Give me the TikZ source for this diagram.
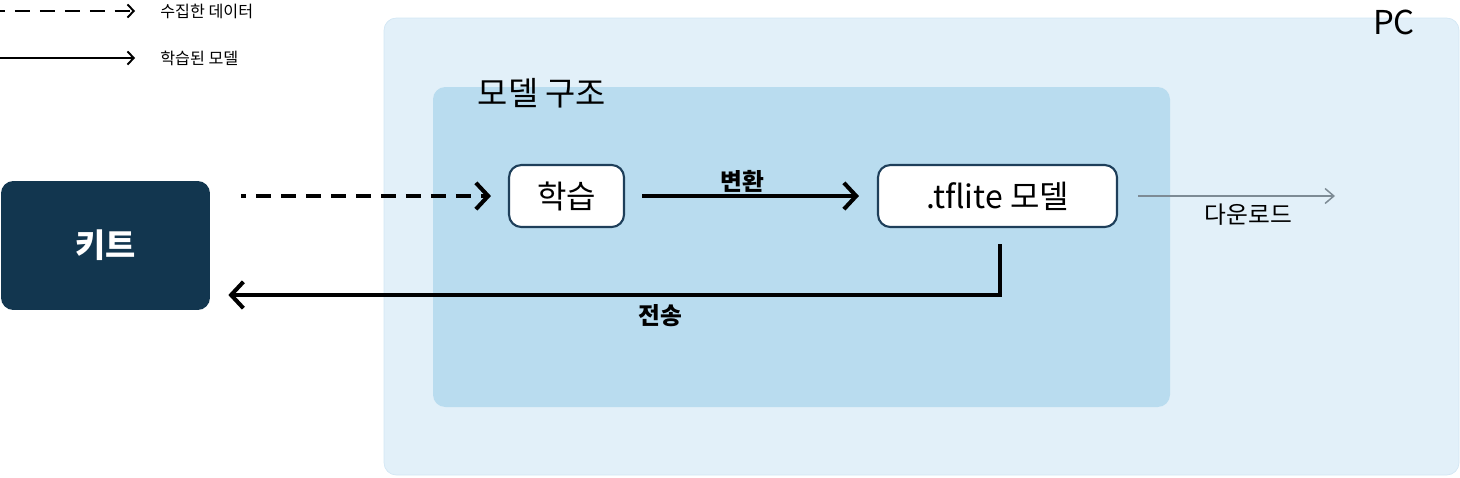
\documentclass[tikz,border=0pt]{standalone}
\usepackage{fontspec}
\setmainfont{Noto Sans CJK KR}
\usetikzlibrary{arrows.meta,positioning}
\definecolor{pcfill}{HTML}{E2F0F9}
\definecolor{pcline}{HTML}{D3E7F4}
\definecolor{modelfill}{HTML}{B9DCEF}
\definecolor{kitfill}{HTML}{12364F}
\definecolor{stageline}{HTML}{1E3F5A}
\definecolor{dlgray}{HTML}{7D8B95}

\begin{document}
\begin{tikzpicture}[x=0.02cm,y=-0.02cm,
   kitbox/.style={fill=kitfill,text=white,rounded corners=7pt,minimum width=4.18cm,minimum height=2.58cm,font=\fontsize{18.7}{22}\selectfont\bfseries},
   stage/.style={draw=stageline,line width=1.2pt,fill=white,rounded corners=7pt,minimum height=1.24cm,font=\fontsize{18.2}{21}\selectfont},
   flow/.style={line width=2.3pt,-{Straight Barb[length=7pt,width=15pt]}},
   dataflow/.style={flow,dash pattern=on 8.5pt off 5.7pt,dash phase=5.7pt},
   legendline/.style={line width=1.1pt,-{Straight Barb[length=3.5pt,width=7.5pt]}},
   legendtext/.style={anchor=west,inner sep=0pt,font=\fontsize{9.2}{11}\selectfont},
   flowlabel/.style={font=\fontsize{13.5}{16}\selectfont\bfseries,inner sep=1pt}]
   \useasboundingbox (0,0) rectangle (1460,477);

   % boxes
   \draw[pcline,fill=pcfill,rounded corners=7pt] (384,18) rectangle (1459,475);
   \fill[modelfill,rounded corners=7pt] (433,87) rectangle (1170,407);
   \node[font=\fontsize{18.7}{22}\selectfont] (pclabel) at (1394,22) {PC};
   \node[font=\fontsize{18.7}{22}\selectfont] (modeltitle) at (542,93) {모델 구조};

   \node[kitbox] (kit) at (105.5,245.5) {키트};
   \node[stage,minimum width=2.3cm] (learn) at (566.5,196) {학습};
   \node[stage,minimum width=4.78cm] (tflite) at (997.5,196) {.tflite 모델};

   % arrows
   \draw[dataflow,shorten <=0.62cm,shorten >=0.34cm] (kit.east |- learn.west) -- (learn.west);
   \draw[flow,shorten <=0.34cm,shorten >=0.36cm] (learn) -- (tflite)
      node[flowlabel,midway,above,xshift=-0.18cm] {변환};
   \coordinate (sendturn) at (1000,295);
   \draw[flow,shorten <=0.32cm,shorten >=0.36cm] (tflite.south -| sendturn) |- (kit.east |- sendturn)
      node[flowlabel,pos=0.715,below=3pt] {전송};
   \coordinate (dlend) at (1335,196);
   \draw[dlgray,line width=0.85pt,-{Straight Barb[length=5pt,width=8.5pt]},shorten <=0.4cm] (tflite.east) -- (dlend)
      node[pos=0.6,below=1pt,text=black,font=\fontsize{13.5}{16}\selectfont] {다운로드};

   % legend
   \node[legendtext] (datalabel) at (160,11) {수집한 데이터};
   \node[legendtext] (modellabel) at (160,58) {학습된 모델};
   \coordinate (dataleg) at (0,11);
   \coordinate (modelleg) at (0,58);
   \draw[legendline,dash pattern=on 8.5pt off 5.7pt,dash phase=5.7pt,shorten >=0.5cm] (dataleg) -- (datalabel.west);
   \draw[legendline,shorten >=0.5cm] (modelleg) -- (modellabel.west);
\end{tikzpicture}
\end{document}
